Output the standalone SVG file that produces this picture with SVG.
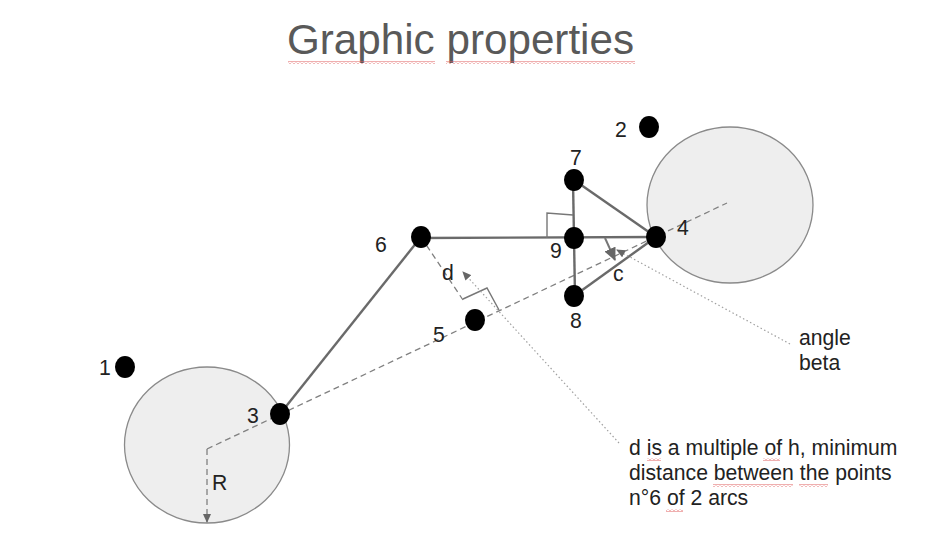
<svg xmlns="http://www.w3.org/2000/svg" width="950" height="547" viewBox="0 0 950 547">
<style>
text{font-family:"Liberation Sans",Arial,sans-serif;font-size:21.2px;fill:#222}
.title{font-size:42.2px;fill:#595959}
.arc{fill:#eee;stroke:#8a8a8a;stroke-width:1.3}
.dot{fill:#000}
.solid{fill:none;stroke:#6a6a6a;stroke-width:2.4}
.thin{fill:none;stroke:#777;stroke-width:1.4}
.dash{fill:none;stroke:#808080;stroke-width:1.3;stroke-dasharray:6 4}
.dotted{fill:none;stroke:#a0a0a0;stroke-width:1.2;stroke-dasharray:1.5 2.5}
.sq{fill:url(#wave)}
</style>
<defs>
<pattern id="wave" width="4" height="3" patternUnits="userSpaceOnUse"><path d="M0 2.5L2 .5L4 2.5" fill="none" stroke="#e06060" stroke-width="1"/></pattern>
<marker id="head" markerWidth="10" markerHeight="8" refX="8" refY="4" orient="auto" markerUnits="userSpaceOnUse"><path d="M0 0L9 4L0 8Z" fill="#666"/></marker>
<marker id="headBig" markerWidth="14" markerHeight="12" refX="12" refY="6" orient="auto" markerUnits="userSpaceOnUse"><path d="M0 0L13 6L0 12Z" fill="#666"/></marker>
</defs>
<rect width="950" height="547" fill="#fff"/>
<g id="title"><text class="title" x="287" y="54">Graphic properties</text>
<rect class="sq" x="288" y="61" width="147" height="3"/><rect class="sq" x="446" y="61" width="189" height="3"/></g>
<g id="arc-left"><ellipse class="arc" cx="207" cy="445" rx="82.5" ry="78"/></g>
<g id="arc-right"><ellipse class="arc" cx="730" cy="205" rx="83" ry="78"/></g>
<g id="connectors">
<path class="dash" d="M207 449L727 203"/>
<path class="dash" d="M207 449V522" marker-end="url(#head)"/>
<path class="dash" d="M421 237L463 300"/>
<path class="solid" d="M421 237L280 414"/>
<path class="solid" d="M421 238L656 237"/>
<path class="solid" d="M574 180L656 237"/>
<path class="solid" d="M574 296L656 237"/>
<path class="solid" d="M573 180L575 296"/>
<path class="thin" d="M547 238V213L573 215"/>
<path class="thin" d="M463 299L487 288L499 310"/>
<path class="thin" style="stroke-width:2" d="M605 238L615 260" marker-end="url(#headBig)"/>
<path class="dotted" d="M790 344L617 250" marker-end="url(#head)"/>
<path class="dotted" d="M619 443L463 272" marker-end="url(#head)"/>
</g>
<g id="node-1"><ellipse class="dot" cx="125" cy="367" rx="10" ry="11"/><text x="99" y="375">1</text></g>
<g id="node-2"><ellipse class="dot" cx="649" cy="127" rx="10" ry="11"/><text x="615" y="137">2</text></g>
<g id="node-3"><ellipse class="dot" cx="280" cy="414" rx="10" ry="11"/><text x="247" y="423">3</text></g>
<g id="node-4"><ellipse class="dot" cx="656" cy="237" rx="10" ry="11"/><text x="677" y="235">4</text></g>
<g id="node-5"><ellipse class="dot" cx="475" cy="320" rx="10" ry="11"/><text x="433" y="342">5</text></g>
<g id="node-6"><ellipse class="dot" cx="421" cy="237" rx="10" ry="11"/><text x="375" y="252">6</text></g>
<g id="node-7"><ellipse class="dot" cx="574" cy="180" rx="10" ry="11"/><text x="570" y="165">7</text></g>
<g id="node-8"><ellipse class="dot" cx="574" cy="296" rx="10" ry="11"/><text x="570" y="328">8</text></g>
<g id="node-9"><ellipse class="dot" cx="574" cy="238" rx="10" ry="11"/><text x="550" y="258">9</text></g>
<g id="labels">
<text x="212" y="490">R</text>
<text x="442" y="280">d</text>
<text x="613" y="281">c</text>
<text x="799" y="345">angle</text>
<text x="799" y="370">beta</text>
<text x="629" y="455">d is a multiple of h, minimum</text>
<text x="629" y="480">distance between the points</text>
<text x="629" y="505">n°6 of 2 arcs</text>
<rect class="sq" x="647" y="458" width="14" height="3"/>
<rect class="sq" x="763" y="458" width="17" height="3"/>
<rect class="sq" x="713" y="484" width="80" height="3"/>
<rect class="sq" x="799" y="484" width="29" height="3"/>
<rect class="sq" x="666" y="509" width="17" height="3"/>
</g>
</svg>
